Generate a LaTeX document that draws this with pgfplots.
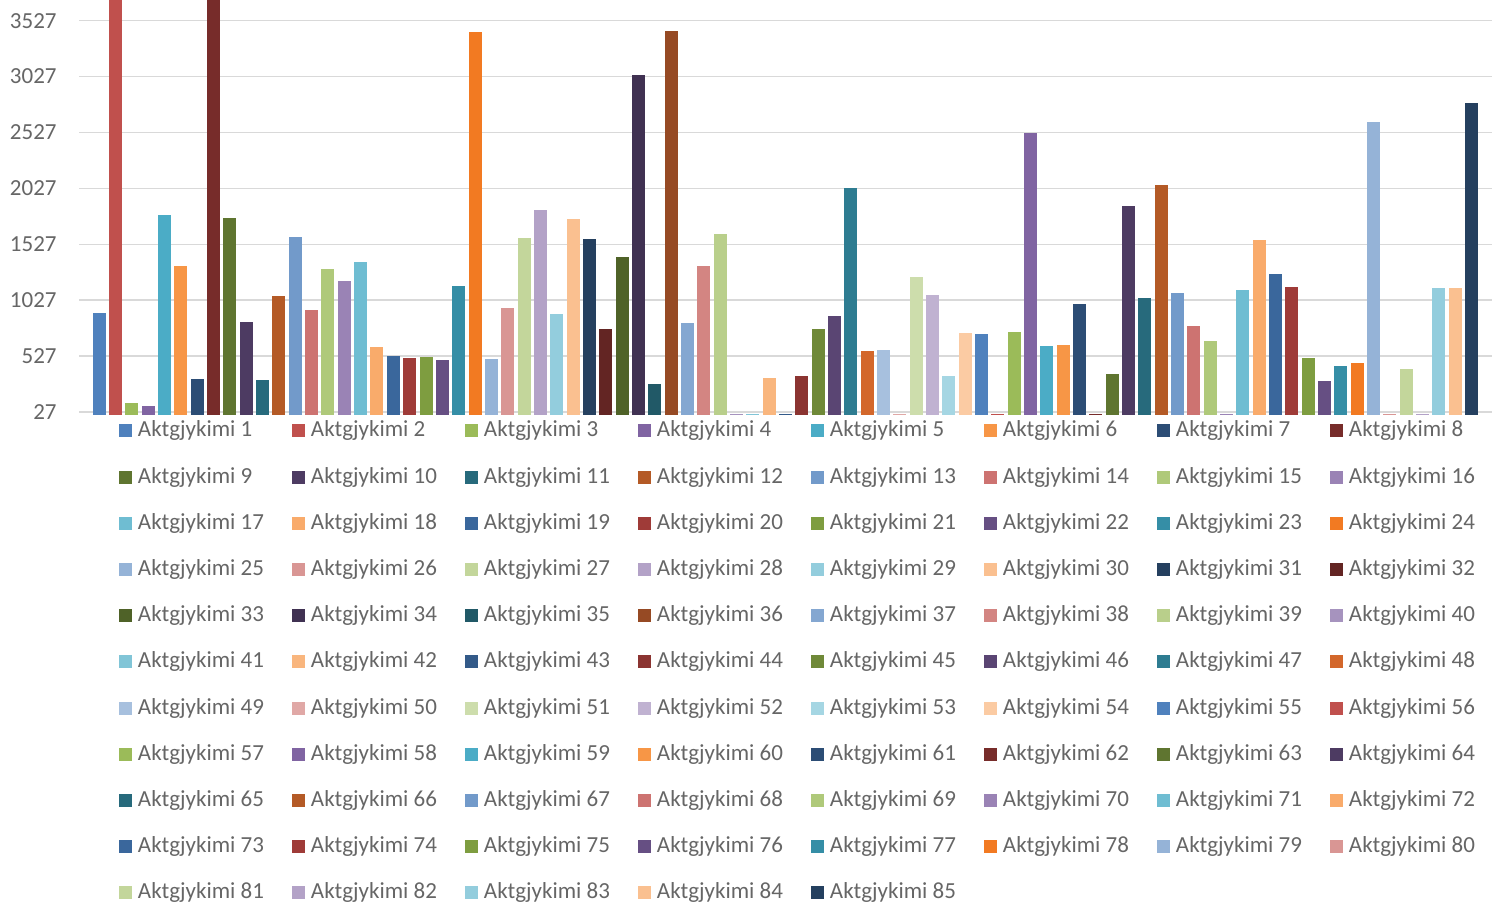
\documentclass[border=0pt]{standalone}
\usepackage{fontspec}
\setmainfont{Carlito}
\usepackage{xcolor}
\usepackage{pgfplots}
\pgfplotsset{compat=1.18}

% Office palette: 6 accents x 9 shades, repeated after 54 series
\definecolor{c1}{HTML}{4F81BD}\definecolor{c2}{HTML}{C0504D}\definecolor{c3}{HTML}{9BBB59}
\definecolor{c4}{HTML}{8064A2}\definecolor{c5}{HTML}{4BACC6}\definecolor{c6}{HTML}{F79646}
\definecolor{c7}{HTML}{2C4D75}\definecolor{c8}{HTML}{772C2A}\definecolor{c9}{HTML}{5F7530}
\definecolor{c10}{HTML}{4D3B62}\definecolor{c11}{HTML}{276A7C}\definecolor{c12}{HTML}{B45A26}
\definecolor{c13}{HTML}{729ACA}\definecolor{c14}{HTML}{CD7371}\definecolor{c15}{HTML}{AFC97A}
\definecolor{c16}{HTML}{9A83B5}\definecolor{c17}{HTML}{6FBDD2}\definecolor{c18}{HTML}{F9AB6B}
\definecolor{c19}{HTML}{3A679C}\definecolor{c20}{HTML}{9F3B38}\definecolor{c21}{HTML}{7E9D40}
\definecolor{c22}{HTML}{664F83}\definecolor{c23}{HTML}{358EA6}\definecolor{c24}{HTML}{F27A22}
\definecolor{c25}{HTML}{95B3D7}\definecolor{c26}{HTML}{D99694}\definecolor{c27}{HTML}{C3D69B}
\definecolor{c28}{HTML}{B3A2C7}\definecolor{c29}{HTML}{93CDDD}\definecolor{c30}{HTML}{FAC090}
\definecolor{c31}{HTML}{25405F}\definecolor{c32}{HTML}{632523}\definecolor{c33}{HTML}{4F6228}
\definecolor{c34}{HTML}{403152}\definecolor{c35}{HTML}{215967}\definecolor{c36}{HTML}{964A24}
\definecolor{c37}{HTML}{84A7D1}\definecolor{c38}{HTML}{D38582}\definecolor{c39}{HTML}{B9CF8B}
\definecolor{c40}{HTML}{A693BE}\definecolor{c41}{HTML}{81C5D7}\definecolor{c42}{HTML}{F9B67E}
\definecolor{c43}{HTML}{335A89}\definecolor{c44}{HTML}{8B3431}\definecolor{c45}{HTML}{6F8938}
\definecolor{c46}{HTML}{5A4573}\definecolor{c47}{HTML}{2E7C91}\definecolor{c48}{HTML}{D3672B}
\definecolor{c49}{HTML}{A7C0DE}\definecolor{c50}{HTML}{E0A8A6}\definecolor{c51}{HTML}{CDDDAC}
\definecolor{c52}{HTML}{C0B2D1}\definecolor{c53}{HTML}{A5D6E3}\definecolor{c54}{HTML}{FBCBA3}
\colorlet{c55}{c1}\colorlet{c56}{c2}\colorlet{c57}{c3}\colorlet{c58}{c4}\colorlet{c59}{c5}
\colorlet{c60}{c6}\colorlet{c61}{c7}\colorlet{c62}{c8}\colorlet{c63}{c9}\colorlet{c64}{c10}
\colorlet{c65}{c11}\colorlet{c66}{c12}\colorlet{c67}{c13}\colorlet{c68}{c14}\colorlet{c69}{c15}
\colorlet{c70}{c16}\colorlet{c71}{c17}\colorlet{c72}{c18}\colorlet{c73}{c19}\colorlet{c74}{c20}
\colorlet{c75}{c21}\colorlet{c76}{c22}\colorlet{c77}{c23}\colorlet{c78}{c24}\colorlet{c79}{c25}
\colorlet{c80}{c26}\colorlet{c81}{c27}\colorlet{c82}{c28}\colorlet{c83}{c29}\colorlet{c84}{c30}
\colorlet{c85}{c31}
\definecolor{lgray}{HTML}{666666}
\definecolor{gridgray}{HTML}{D9D9D9}

\newcommand{\lfont}{\fontsize{11.5pt}{13pt}\selectfont}
\pgfplotsset{sqlegend/.style={legend image code/.code={\fill[##1] (0pt,-3.25pt) rectangle (6.5pt,3.25pt);}}}
\newcommand{\ser}[2]{\addplot[fill=c#1] coordinates {(#1,#2)};\addlegendentry{\makebox[77pt][l]{Aktgjykimi #1}}}

\begin{document}
\begin{tikzpicture}
\useasboundingbox (0,0) rectangle (749.5pt,452pt);
\begin{axis}[
  at={(39.5pt,244.5pt)}, anchor=south west,
  scale only axis, width=706.5pt, height=207.5pt,
  xmin=-0.24, xmax=86.25,
  ymin=0, ymax=3712,
  xtick=\empty,
  ytick={27,527,1027,1527,2027,2527,3027,3527},
  yticklabels={27,527,1027,1527,2027,2527,3027,3527},
  yticklabel style={font=\lfont, text=lgray, anchor=east, inner sep=0pt, xshift=-11pt},
  ymajorgrids, grid style={color=gridgray, line width=0.75pt},
  axis line style={draw=none}, major tick length=0pt,
  every axis plot/.append style={ybar, bar width=6.5pt, bar shift=0pt, draw=none, sqlegend},
  legend columns=8, legend cell align=left,
  legend style={at={(axis description cs:0.0283,-0.0096)}, anchor=north west,
    draw=none, fill=none, inner sep=0pt, outer sep=0pt,
    font=\lfont, text=lgray, row sep=11.1pt, column sep=0pt,
    nodes={inner sep=0pt, outer sep=0pt, text height=9pt, text depth=3pt},
    /tikz/every odd column/.append style={column sep=3pt}},
]
\ser{1}{912}\ser{2}{3900}\ser{3}{107}\ser{4}{81}\ser{5}{1789}
\ser{6}{1333}\ser{7}{322}\ser{8}{3900}\ser{9}{1762}\ser{10}{832}
\ser{11}{313}\ser{12}{1064}\ser{13}{1592}\ser{14}{939}\ser{15}{1306}
\ser{16}{1199}\ser{17}{1368}\ser{18}{608}\ser{19}{528}\ser{20}{510}
\ser{21}{519}\ser{22}{492}\ser{23}{1154}\ser{24}{3425}\ser{25}{501}
\ser{26}{957}\ser{27}{1583}\ser{28}{1833}\ser{29}{903}\ser{30}{1753}
\ser{31}{1574}\ser{32}{769}\ser{33}{1413}\ser{34}{3041}\ser{35}{277}
\ser{36}{3434}\ser{37}{823}\ser{38}{1333}\ser{39}{1619}\ser{40}{9}
\ser{41}{9}\ser{42}{331}\ser{43}{9}\ser{44}{349}\ser{45}{769}
\ser{46}{886}\ser{47}{2030}\ser{48}{573}\ser{49}{581}\ser{50}{9}
\ser{51}{1234}\ser{52}{1073}\ser{53}{349}\ser{54}{733}\ser{55}{724}
\ser{56}{9}\ser{57}{742}\ser{58}{2522}\ser{59}{617}\ser{60}{626}
\ser{61}{993}\ser{62}{9}\ser{63}{367}\ser{64}{1869}\ser{65}{1047}
\ser{66}{2057}\ser{67}{1091}\ser{68}{796}\ser{69}{662}\ser{70}{9}
\ser{71}{1118}\ser{72}{1565}\ser{73}{1261}\ser{74}{1145}\ser{75}{510}
\ser{76}{304}\ser{77}{438}\ser{78}{465}\ser{79}{2620}\ser{80}{9}
\ser{81}{412}\ser{82}{9}\ser{83}{1136}\ser{84}{1136}\ser{85}{2790}
\end{axis}
\end{tikzpicture}
\end{document}
